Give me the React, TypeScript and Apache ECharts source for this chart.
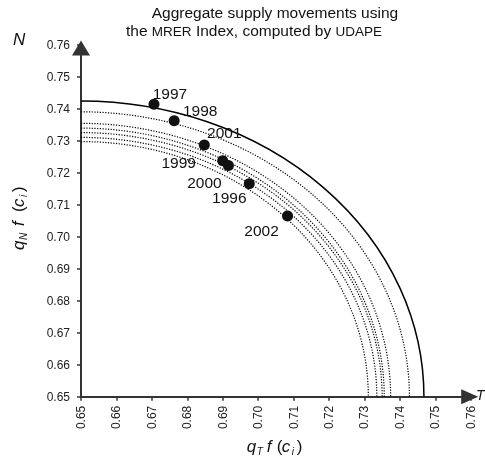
import React, { useEffect, useRef } from "react";
import * as echarts from "echarts";

// ---- data ----
const X_MIN = 0.65;
const X_MAX = 0.76;
const Y_MIN = 0.65;
const Y_MAX = 0.76;
const TICK_STEP = 0.01;

const years = ["1997", "1998", "2001", "1999", "2000", "1996", "2002"];
const qT = [0.6706, 0.6763, 0.6848, 0.69, 0.6916, 0.6975, 0.7083];
const qN = [0.7415, 0.7363, 0.7287, 0.7238, 0.7223, 0.7166, 0.7065];

// frontier (quarter-ellipse) intercepts on each axis, one per year
const frontierYears = ["1997", "1998", "2001", "1999", "2000", "1996", "2002"];
const frontierXIntercept = [0.7468, 0.7427, 0.7374, 0.7356, 0.735, 0.7335, 0.7311];
const frontierYIntercept = [0.7425, 0.7391, 0.7355, 0.734, 0.7326, 0.7311, 0.7298];

// ---- styling (not data) ----
const SOLID_FRONTIER = "1997";
const labelOffsets: Record<string, [number, number]> = {
  "1997": [16, -11],
  "1998": [26, -10],
  "2001": [20, -12.5],
  "1999": [-44, 2],
  "2000": [-24, 17],
  "1996": [-20, 14],
  "2002": [-26, 14],
};

const AXIS_COLOR = "#333";
const TEXT_COLOR = "#111";
const FONT = "Liberation Sans, Arial, sans-serif";

export default function App() {
  const ref = useRef<HTMLDivElement>(null);

  useEffect(() => {
    if (!ref.current) return;
    const chart = echarts.init(ref.current, null, { renderer: "svg" });

    const frontierData = frontierYears.map((y, i) => [
      frontierXIntercept[i],
      frontierYIntercept[i],
    ]);
    const pointData = years.map((y, i) => ({
      value: [qT[i], qN[i]],
      name: y,
      label: { offset: labelOffsets[y] },
    }));

    const italic = (text: string, x: number, y: number, size = 17) => ({
      type: "text",
      x,
      y,
      style: {
        text,
        fontSize: size,
        fontStyle: "italic",
        fontFamily: FONT,
        fill: TEXT_COLOR,
        align: "left",
        verticalAlign: "middle",
      },
    });
    const upright = (text: string, x: number, y: number, size = 17) => ({
      type: "text",
      x,
      y,
      style: {
        text,
        fontSize: size,
        fontFamily: FONT,
        fill: TEXT_COLOR,
        align: "left",
        verticalAlign: "middle",
      },
    });

    const axisLabelParts = (sub: string, gap: number) => [
      italic("q", 0, 0),
      italic(sub, 10, 5, 10),
      italic("f", 20 + gap, 0),
      upright("(", 30 + gap * 2, 0),
      italic("c", 35 + gap * 2, 0),
      italic("i", 45 + gap * 2, 5, 10),
      upright(")", 50 + gap * 2, 0),
    ];

    chart.setOption({
      animation: false,
      grid: { left: 81, right: 14.3, top: 45, bottom: 67.3, containLabel: false },
      xAxis: {
        type: "value",
        min: X_MIN,
        max: X_MAX,
        interval: TICK_STEP,
        splitLine: { show: false },
        axisLine: {
          lineStyle: { color: AXIS_COLOR, width: 2 },
          symbol: ["none", "triangle"],
          symbolSize: [15, 17],
          symbolOffset: [0, -1],
        },
        axisTick: { length: 4, lineStyle: { color: AXIS_COLOR, width: 1.5 } },
        axisLabel: {
          rotate: 90,
          margin: 9,
          fontSize: 12,
          color: "#222",
          fontFamily: FONT,
          formatter: (v: number) => v.toFixed(2),
        },
      },
      yAxis: {
        type: "value",
        min: Y_MIN,
        max: Y_MAX,
        interval: TICK_STEP,
        splitLine: { show: false },
        axisLine: {
          lineStyle: { color: AXIS_COLOR, width: 2 },
          symbol: ["none", "triangle"],
          symbolSize: [18, 15],
          symbolOffset: [0, -3],
        },
        axisTick: { length: 4, lineStyle: { color: AXIS_COLOR, width: 1.5 } },
        axisLabel: {
          margin: 11,
          fontSize: 12,
          color: "#222",
          fontFamily: FONT,
          formatter: (v: number) => v.toFixed(2),
        },
      },
      series: [
        {
          type: "custom",
          coordinateSystem: "cartesian2d",
          data: frontierData,
          encode: { x: 0, y: 1 },
          silent: true,
          z: 1,
          renderItem: (params: any, api: any) => {
            const o = api.coord([X_MIN, Y_MIN]);
            const pr = api.coord([api.value(0), Y_MIN]);
            const pt = api.coord([X_MIN, api.value(1)]);
            const rx = pr[0] - o[0];
            const ry = o[1] - pt[1];
            const solid = frontierYears[params.dataIndex] === SOLID_FRONTIER;
            return {
              type: "path",
              shape: {
                pathData: `M${pt[0]} ${pt[1]} A${rx} ${ry} 0 0 1 ${pr[0]} ${pr[1]}`,
              },
              style: {
                fill: "none",
                stroke: "#000",
                lineWidth: solid ? 1.5 : 1.2,
                lineDash: solid ? null : [1.2, 1.5],
              },
            };
          },
        },
        {
          type: "scatter",
          data: pointData,
          symbol: "circle",
          symbolSize: 11,
          z: 3,
          itemStyle: { color: "#111", opacity: 1 },
          label: {
            show: true,
            position: "inside",
            formatter: (p: any) => p.name,
            fontSize: 15.5,
            fontFamily: FONT,
            color: TEXT_COLOR,
          },
        },
      ],
      graphic: [
        {
          type: "text",
          left: 151.7,
          top: 4,
          style: {
            text: "Aggregate supply movements using",
            fontSize: 15.5,
            fontFamily: FONT,
            fill: TEXT_COLOR,
          },
        },
        {
          type: "text",
          left: 126,
          top: 22,
          style: {
            text: "the {s|MRER} Index, computed by {s|UDAPE}",
            fontSize: 15.5,
            fontFamily: FONT,
            fill: TEXT_COLOR,
            rich: {
              s: { fontSize: 13.5, fontFamily: FONT, fill: TEXT_COLOR, verticalAlign: "bottom" },
            },
          },
        },
        italic("N", 13, 39),
        italic("T", 476, 395, 14),
        {
          type: "group",
          x: 246.7,
          y: 446,
          children: axisLabelParts("T", 0),
        },
        {
          type: "group",
          x: 18,
          y: 250,
          rotation: Math.PI / 2,
          children: axisLabelParts("N", 4),
        },
      ],
    });

    return () => chart.dispose();
  }, []);

  return (
    <div
      ref={ref}
      style={{ position: "fixed", left: 0, top: 0, width: 485, height: 464 }}
    />
  );
}
